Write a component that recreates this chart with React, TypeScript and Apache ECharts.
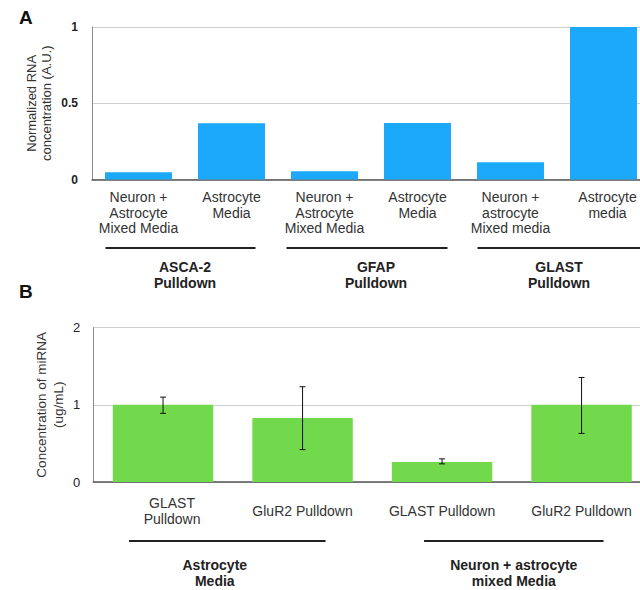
import React, { useEffect, useRef } from "react";
import * as echarts from "echarts";

// ---- Panel A data ----
const categoriesA = [
  "Neuron +\nAstrocyte\nMixed Media",
  "Astrocyte\nMedia",
  "Neuron +\nAstrocyte\nMixed Media",
  "Astrocyte\nMedia",
  "Neuron +\nastrocyte\nMixed media",
  "Astrocyte\nmedia",
];
const valuesA = [0.048, 0.369, 0.054, 0.37, 0.113, 1.0];
const groupLabelsA = ["ASCA-2\nPulldown", "GFAP\nPulldown", "GLAST\nPulldown"];
const groupSpansA = [
  [0, 1],
  [2, 3],
  [4, 5],
];

// ---- Panel B data ----
const categoriesB = ["GLAST\nPulldown", "GluR2 Pulldown", "GLAST Pulldown", "GluR2 Pulldown"];
const valuesB = [1.0, 0.83, 0.26, 1.0];
const errLowB = [0.89, 0.42, 0.235, 0.63];
const errHighB = [1.1, 1.235, 0.3, 1.355];
const groupLabelsB = ["Astrocyte\nMedia", "Neuron + astrocyte\nmixed Media"];
const groupSpansB = [
  [0, 1],
  [2, 3],
];

// ---- layout (pixels) ----
const FONT = "'Liberation Sans', Arial, Helvetica, sans-serif";
const LINE_INSET_A = [
  [-33, 24],
  [-38, 30],
  [-33, 40],
];
const LABEL_DX_A = [0, 5, 2];
const LINE_INSET_B = [
  [-34, 23],
  [-18, 22],
];
const LABEL_DX_B = [-18, 2];
// extra left padding of individual category labels (shifts them right)
const CAT_PAD_A = [0, 0, 0, 0, 0, 8];
const CAT_PAD_B = [18, 0, 0, 0];

export default function App() {
  const ref = useRef<HTMLDivElement>(null);

  useEffect(() => {
    document.body.style.margin = "0";
    const chart = echarts.init(ref.current!, undefined, { renderer: "svg" });

    const labelA = { fontSize: 14, lineHeight: 15.5, color: "#333", fontFamily: FONT, verticalAlign: "top" };
    const labelB = { fontSize: 14, lineHeight: 16, color: "#333", fontFamily: FONT, verticalAlign: "middle" };

    const withPad = (cats: string[], pads: number[], base: any) =>
      cats.map((c, i) => (pads[i] ? { value: c, textStyle: { ...base, padding: [0, 0, 0, pads[i]] } } : c));

    const catAxis = (gridIndex: number, data: any[], base: any, margin: number) => ({
      type: "category",
      gridIndex,
      data,
      axisLine: { lineStyle: { color: "#555", width: 1.5 } },
      axisTick: { show: false },
      axisLabel: { interval: 0, margin, ...base },
    });

    const option: any = {
      animation: false,
      textStyle: { fontFamily: FONT },
      grid: [
        { left: 92, top: 27, width: 558, height: 152.5 },
        { left: 93.3, top: 327.7, width: 558, height: 154.3 },
      ],
      xAxis: [
        catAxis(0, withPad(categoriesA, CAT_PAD_A, labelA), labelA, 10),
        catAxis(1, withPad(categoriesB, CAT_PAD_B, labelB), labelB, 29),
      ],
      yAxis: [
        {
          type: "value",
          gridIndex: 0,
          min: 0,
          max: 1,
          interval: 0.5,
          axisLine: { show: true, lineStyle: { color: "#8c8c8c", width: 1 } },
          axisTick: { show: false },
          splitLine: { lineStyle: { color: "#cfcfcf" } },
          axisLabel: { fontWeight: "bold", fontSize: 12, color: "#222", margin: 14, fontFamily: FONT },
          name: "Normalized RNA\nconcentration (A.U.)",
          nameLocation: "middle",
          nameRotate: 90,
          nameGap: 38,
          nameMoveOverlap: false,
          nameTextStyle: { fontSize: 13, lineHeight: 15, color: "#333", fontFamily: FONT },
        },
        {
          type: "value",
          gridIndex: 1,
          min: 0,
          max: 2,
          interval: 1,
          axisLine: { show: true, lineStyle: { color: "#8c8c8c", width: 1 } },
          axisTick: { show: false },
          splitLine: { lineStyle: { color: "#cfcfcf" } },
          axisLabel: { fontSize: 13, color: "#222", margin: 13, fontFamily: FONT },
          name: "Concentration of miRNA\n(ug/mL)",
          nameLocation: "middle",
          nameRotate: 90,
          nameGap: 26,
          nameMoveOverlap: false,
          nameTextStyle: { fontSize: 13.5, lineHeight: 17, color: "#333", fontFamily: FONT },
        },
      ],
      series: [
        {
          type: "bar",
          xAxisIndex: 0,
          yAxisIndex: 0,
          data: valuesA,
          barWidth: "72%",
          itemStyle: { color: "#1ca8fb" },
        },
        {
          type: "bar",
          xAxisIndex: 1,
          yAxisIndex: 1,
          data: valuesB,
          barWidth: "72%",
          itemStyle: { color: "#72d94c" },
        },
        {
          type: "custom",
          xAxisIndex: 1,
          yAxisIndex: 1,
          z: 10,
          encode: { x: 0, y: [1, 2] },
          data: errLowB.map((lo, i) => [i, lo, errHighB[i]]),
          renderItem: (_params: any, api: any) => {
            const i = api.value(0);
            const lo = api.coord([i, api.value(1)]);
            const hi = api.coord([i, api.value(2)]);
            const cap = 3;
            const style = { stroke: "#111", lineWidth: 1 };
            return {
              type: "group",
              children: [
                { type: "line", shape: { x1: lo[0], y1: lo[1], x2: hi[0], y2: hi[1] }, style },
                { type: "line", shape: { x1: lo[0] - cap, y1: lo[1], x2: lo[0] + cap, y2: lo[1] }, style },
                { type: "line", shape: { x1: hi[0] - cap, y1: hi[1], x2: hi[0] + cap, y2: hi[1] }, style },
              ],
            };
          },
        },
      ],
    };

    chart.setOption(option);

    const graphics: any[] = [
      {
        type: "text",
        left: 19,
        top: 8,
        style: { text: "A", fontSize: 19, fontWeight: "bold", fill: "#111", fontFamily: FONT },
      },
      {
        type: "text",
        left: 19,
        top: 282,
        style: { text: "B", fontSize: 19, fontWeight: "bold", fill: "#111", fontFamily: FONT },
      },
    ];

    const addGroups = (
      gridIndex: number,
      spans: number[][],
      labels: string[],
      insets: number[][],
      dxs: number[],
      lineDy: number,
      labelDy: number
    ) => {
      spans.forEach(([a, b], g) => {
        const pa = chart.convertToPixel({ gridIndex }, [a, 0]) as number[];
        const pb = chart.convertToPixel({ gridIndex }, [b, 0]) as number[];
        const base = pa[1];
        graphics.push({
          type: "line",
          shape: { x1: pa[0] + insets[g][0], y1: base + lineDy, x2: pb[0] + insets[g][1], y2: base + lineDy },
          style: { stroke: "#222", lineWidth: 2 },
        });
        graphics.push({
          type: "text",
          x: (pa[0] + pb[0]) / 2 + dxs[g],
          y: base + labelDy,
          style: {
            text: labels[g],
            fontSize: 14,
            fontWeight: "bold",
            lineHeight: 16,
            fill: "#222",
            align: "center",
            verticalAlign: "middle",
            fontFamily: FONT,
          },
        });
      });
    };

    addGroups(0, groupSpansA, groupLabelsA, LINE_INSET_A, LABEL_DX_A, 68.5, 95.5);
    addGroups(1, groupSpansB, groupLabelsB, LINE_INSET_B, LABEL_DX_B, 59, 91);

    chart.setOption({ graphic: graphics });

    return () => chart.dispose();
  }, []);

  return (
    <div style={{ width: 640, height: 590, overflow: "hidden", position: "relative" }}>
      <div ref={ref} style={{ width: 680, height: 590 }} />
    </div>
  );
}
